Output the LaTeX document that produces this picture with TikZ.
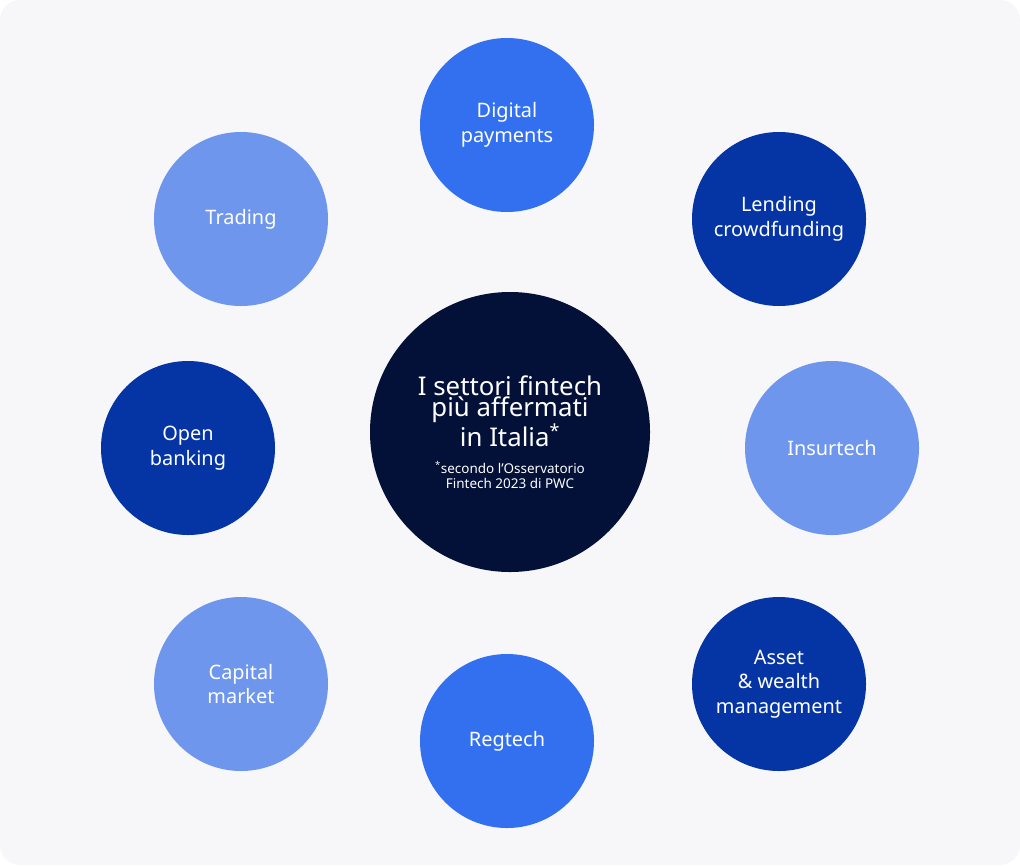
\documentclass[tikz,border=0pt]{standalone}
\usepackage{fontspec}
\setmainfont{Noto Sans}
\definecolor{bgcol}{RGB}{247,247,250}
\definecolor{navy}{RGB}{3,16,56}
\definecolor{brightblue}{RGB}{51,112,240}
\definecolor{darkblue}{RGB}{5,53,165}
\definecolor{lightblue}{RGB}{110,150,236}
\newcommand{\titlefont}{\fontsize{22}{27}\selectfont}
\newcommand{\notefont}{\fontsize{11.5}{14}\selectfont}
\tikzset{
  sector/.style={circle,minimum size=5.22cm,inner sep=0pt,align=center,text=white,
    font=\fontsize{17}{21}\selectfont},
}
\begin{document}
\begin{tikzpicture}[x=0.03cm,y=-0.03cm]
\useasboundingbox (0,0) rectangle (1020,865);
\fill[bgcol,rounded corners=0.6cm] (0,0) rectangle (1020,865);
% centre
\node[circle,fill=navy,minimum size=8.4cm,inner sep=0pt,align=center,text=white] (centre) at (510,432)
  {\titlefont I settori fintech\\ \titlefont più affermati\\ \titlefont in Italia\textsuperscript{*}\\[0.4cm]
   \notefont \textsuperscript{*}secondo l’Osservatorio\\ \notefont Fintech 2023 di PWC};
% outer sectors
\foreach \name/\x/\y/\col/\txt in {
  digital/507/125/brightblue/{Digital\\payments},
  lending/779/219/darkblue/{Lending\\crowdfunding},
  insur/832/448/lightblue/{Insurtech},
  asset/779/684/darkblue/{Asset\\\& wealth\\management},
  regtech/507/741/brightblue/{Regtech},
  capital/241/684/lightblue/{Capital\\market},
  open/188/448/darkblue/{Open\\banking},
  trading/241/219/lightblue/{Trading}}
  \node[sector,fill=\col] (\name) at (\x,\y) {\txt};
\end{tikzpicture}
\end{document}
